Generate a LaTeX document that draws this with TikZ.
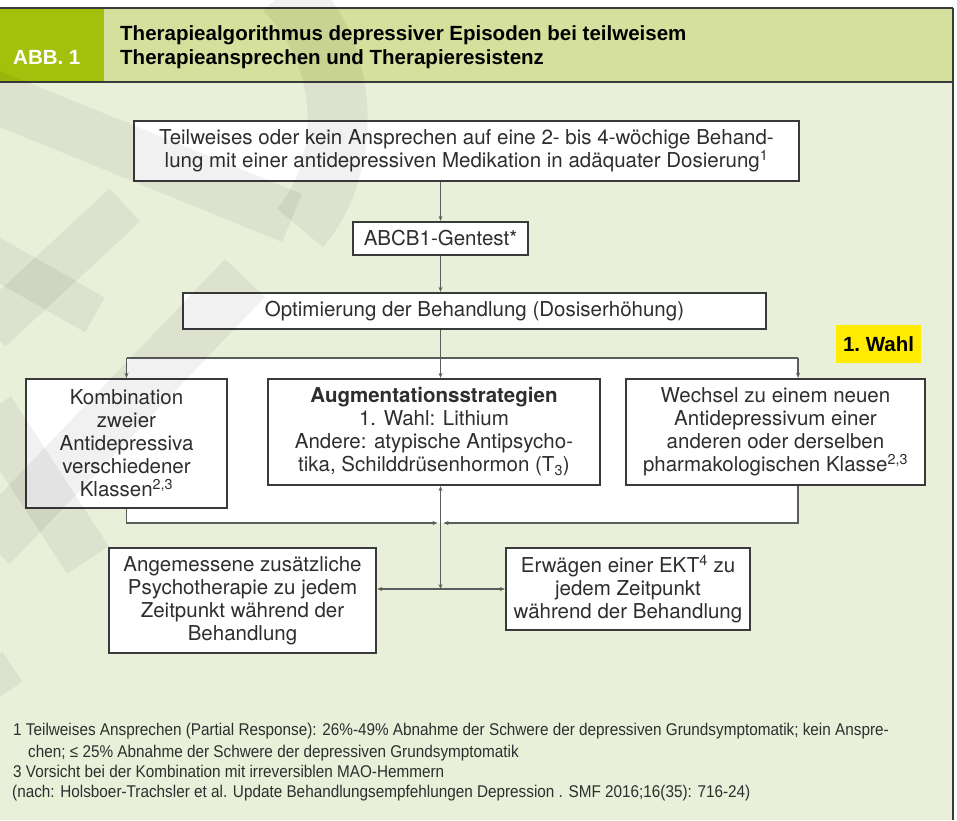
\documentclass[tikz,border=0pt]{standalone}
\usepackage{fontspec}
\setmainfont{TeX Gyre Heros}
\newfontfamily\headfont{Liberation Sans}
\newfontfamily\notefont[FakeStretch=0.9]{Liberation Sans}
\usetikzlibrary{positioning,arrows.meta}
\definecolor{bggreen}{HTML}{E9F0DA}
\definecolor{headgreen}{HTML}{D4E09B}
\definecolor{abbgreen}{HTML}{A3C00C}
\definecolor{wahlyellow}{HTML}{FFEC00}
\definecolor{boxline}{HTML}{3A3A3A}
\definecolor{linegray}{HTML}{5C5C5C}
\definecolor{txtgray}{HTML}{2E2E2E}
\tikzset{
  flowbox/.style={draw=boxline,line width=2.4pt,fill=white,align=center,
                  text=txtgray,inner sep=0pt,font=\fontsize{20.5}{23}\selectfont},
  conn/.style={draw=linegray,line width=1.1pt},
  connarr/.style={conn,-{Stealth[length=5pt,width=4pt]}},
  connboth/.style={conn,{Stealth[length=5pt,width=4pt]}-{Stealth[length=5pt,width=4pt]}},
  headtext/.style={font=\headfont\bfseries\fontsize{20.5}{24}\selectfont},
  fnote/.style={anchor=base west,inner sep=0pt,text=txtgray,
                font=\notefont\fontsize{17}{20}\selectfont},
  wmark/.style={draw=black,opacity=0.055},
}

\begin{document}
\begin{tikzpicture}[x=1pt,y=-1pt]
  \useasboundingbox (0,0) rectangle (957,820);
  \fill[bggreen] (0,8) rectangle (953,820);
  % header
  \fill[headgreen] (0,8) rectangle (953,82);
  \fill[abbgreen] (0,8) rectangle (104,82);
  \draw[boxline,line width=2pt] (0,8) -- (953,8) (0,82) -- (953,82) (953,8) -- (953,820);
  \node[headtext,anchor=base west,inner sep=0pt,text=white] (abb) at (13,64) {ABB.\ 1};
  \node[headtext,anchor=base west,inner sep=0pt,align=left] (title) at (120,40)
    {Therapiealgorithmus depressiver Episoden bei teilweisem};
  \node[headtext,anchor=base west,inner sep=0pt,align=left] (title2) at (120,64)
    {Therapieansprechen und Therapieresistenz};

  % white area behind the middle row
  \coordinate (tl) at (126.5,358);
  \coordinate (tr) at (798,358);
  \coordinate (bl) at (126.5,523);
  \coordinate (br) at (798,523);
  \coordinate (mid) at (440.5,523);
  \coordinate (hub) at (440.5,589);
  \fill[white] (tl) rectangle (br);

  \node[flowbox,minimum width=665pt,minimum height=60pt] (teil) at (466.5,151)
    {Teilweises oder kein Ansprechen auf eine 2- bis 4-wöchige Behand-\\
     lung mit einer antidepressiven Medikation in adäquater Dosierung\textsuperscript{1}};
  \node[flowbox,minimum width=175pt,minimum height=33pt] (gen) at (440.5,238.5)
    {ABCB1-Gentest*};
  \node[flowbox,minimum width=583pt,minimum height=36pt] (opt) at (474.5,311)
    {Optimierung der Behandlung (Dosiserhöhung)};
  \node[flowbox,minimum width=201pt,minimum height=129pt] (komb) at (126.5,443.5)
    {Kombination\\zweier\\Antidepressiva\\verschiedener\\Klassen\textsuperscript{2,3}};
  \node[flowbox,minimum width=332pt,minimum height=106pt] (aug) at (434,432)
    {\textbf{Augmentationsstrategien}\\1. Wahl: Lithium\\Andere: atypische Antipsycho-\\
     tika, Schilddrüsenhormon (T\textsubscript{3})};
  \node[flowbox,minimum width=299pt,minimum height=106pt] (wech) at (775.5,432)
    {Wechsel zu einem neuen\\Antidepressivum einer\\anderen oder derselben\\
     pharmakologischen Klasse\textsuperscript{2,3}};
  \node[flowbox,minimum width=267pt,minimum height=105pt] (psy) at (242.5,600.5)
    {Angemessene zusätzliche\\Psychotherapie zu jedem\\Zeitpunkt während der\\Behandlung};
  \node[flowbox,minimum width=244pt,minimum height=82pt] (ekt) at (628,589)
    {Erwägen einer EKT\textsuperscript{4} zu\\jedem Zeitpunkt\\während der Behandlung};
  \node[headtext,fill=wahlyellow,minimum width=85pt,minimum height=38pt,inner sep=0pt]
    (wahl) at (878.5,344) {1.\ Wahl};

  \draw[connarr] (gen.north |- teil.south) -- (gen.north);
  \draw[connarr] (gen.south) -- (gen.south |- opt.north);
  \draw[connarr] (gen.south |- opt.south) -- (gen.south |- aug.north);
  \draw[conn] (tl) -- (tr);
  \draw[connarr] (tl) -- (komb.north);
  \draw[connarr] (tr) -- (tr |- wech.north);
  \draw[connarr] (komb.south) -- (bl) -- ([xshift=-3pt]mid);
  \draw[connarr] (tr |- wech.south) -- (br) -- ([xshift=3pt]mid);
  \draw[connboth] (hub |- aug.south) -- (hub);
  \draw[connboth] (psy.east |- hub) -- (ekt.west |- hub);

  % footnotes
  \node[fnote] (fn1) at (13,735)
    {1 Teilweises Ansprechen (Partial Response): 26\%-49\% Abnahme der Schwere der depressiven Grundsymptomatik; kein Anspre-};
  \node[fnote] (fn1b) at (28,757)
    {chen; ≤ 25\% Abnahme der Schwere der depressiven Grundsymptomatik};
  \node[fnote] (fn3) at (13,777) {3 Vorsicht bei der Kombination mit irreversiblen MAO-Hemmern};
  \node[fnote] (fnsrc) at (12,797)
    {(nach: Holsboer-Trachsler et al. Update Behandlungsempfehlungen Depression . SMF 2016;16(35): 716-24)};

  % watermark
  \draw[wmark,line width=60pt] (285,-10) .. controls (355,60) and (350,170) .. (300,228);
  \draw[wmark,line width=52pt] (-10,95) -- (292,218);
  \draw[wmark,line width=45pt] (125,205) -- (-10,330);
  \draw[wmark,line width=40pt] (-10,255) -- (95,315);
  \draw[wmark,line width=55pt] (245,278) -- (-10,545);
  \draw[wmark,line width=50pt] (-10,410) -- (88,560);
  \draw[wmark,line width=30pt] (-10,660) -- (10,690);
\end{tikzpicture}
\end{document}
